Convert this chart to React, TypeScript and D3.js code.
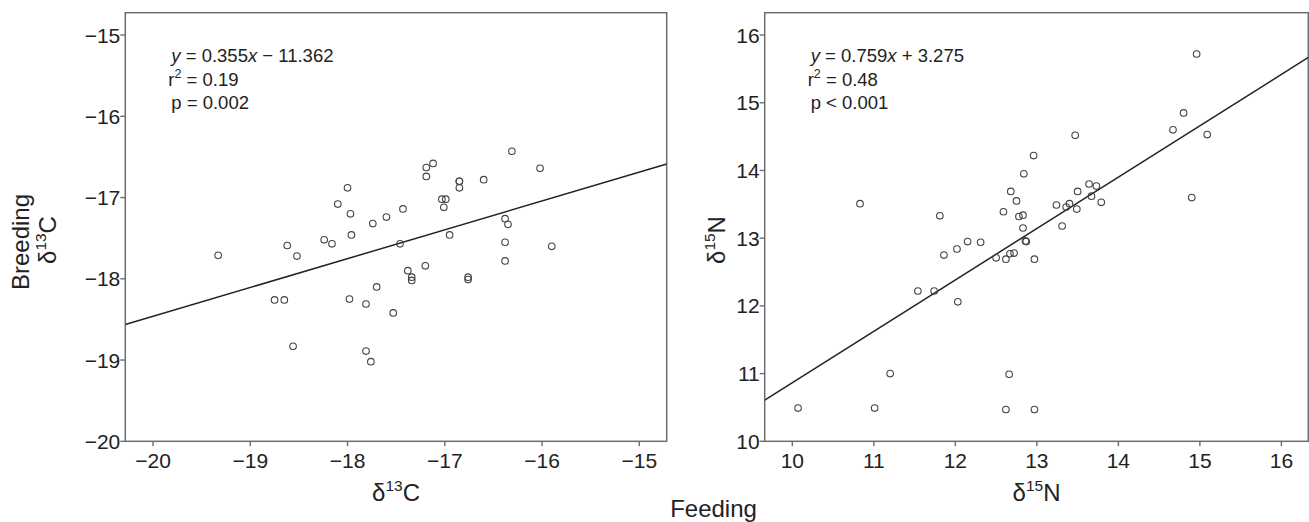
import React from 'react';
import * as d3 from 'd3';

// ---- Data ----
const carbonFeeding = [
  -19.33, -18.62, -18.52, -18.75, -18.65, -18.56, -18.24, -18.16, -18.10, -18.00,
  -17.97, -17.96, -17.98, -17.81, -17.81, -17.76, -17.74, -17.70, -17.60, -17.53,
  -17.43, -17.46, -17.38, -17.34, -17.34, -17.20, -17.19, -17.12, -17.19, -17.03,
  -16.99, -17.01, -16.95, -16.85, -16.85, -16.85, -16.76, -16.76, -16.60, -16.38,
  -16.35, -16.38, -16.38, -16.31, -16.02, -15.90,
];
const carbonBreeding = [
  -17.71, -17.59, -17.72, -18.26, -18.26, -18.83, -17.52, -17.57, -17.08, -16.88,
  -17.20, -17.46, -18.25, -18.31, -18.89, -19.02, -17.32, -18.10, -17.24, -18.42,
  -17.14, -17.57, -17.90, -17.98, -18.02, -17.84, -16.63, -16.58, -16.74, -17.02,
  -17.02, -17.12, -17.46, -16.80, -16.80, -16.88, -17.98, -18.01, -16.78, -17.26,
  -17.33, -17.55, -17.78, -16.43, -16.64, -17.60,
];
const nitrogenFeeding = [
  10.07, 11.01, 11.20, 10.83, 11.81, 11.54, 11.74, 11.86, 12.03, 12.02,
  12.15, 12.31, 12.50, 12.62, 12.67, 12.72, 12.59, 12.68, 12.75, 12.78,
  12.83, 12.83, 12.84, 12.86, 12.87, 12.96, 12.97, 12.66, 12.62, 12.97,
  13.24, 13.31, 13.36, 13.40, 13.47, 13.49, 13.50, 13.64, 13.73, 13.67,
  13.79, 14.67, 14.80, 14.96, 15.09, 14.90,
];
const nitrogenBreeding = [
  10.49, 10.49, 11.00, 13.51, 13.33, 12.22, 12.22, 12.75, 12.06, 12.84,
  12.95, 12.94, 12.71, 12.69, 12.77, 12.78, 13.39, 13.69, 13.55, 13.32,
  13.34, 13.15, 13.95, 12.96, 12.95, 14.22, 12.69, 10.99, 10.47, 10.47,
  13.49, 13.18, 13.46, 13.51, 14.52, 13.43, 13.69, 13.80, 13.77, 13.62,
  13.53, 14.60, 14.85, 15.72, 14.53, 13.60,
];

const carbonTicks = [-20, -19, -18, -17, -16, -15];
const nitrogenTicks = [10, 11, 12, 13, 14, 15, 16];

const carbonFit = { slope: 0.355, intercept: -11.362 };
const nitrogenFit = { slope: 0.759, intercept: 3.275 };

const carbonStats = { slopeText: '0.355', sign: '−', interceptText: '11.362', r2: '0.19', p: 'p = 0.002' };
const nitrogenStats = { slopeText: '0.759', sign: '+', interceptText: '3.275', r2: '0.48', p: 'p < 0.001' };

const FONT = '"Liberation Sans", Arial, Helvetica, sans-serif';
const fmt = (v: number) => (v < 0 ? '−' + Math.abs(v) : String(v));

type PanelProps = {
  id: string;
  left: number;
  right: number;
  top: number;
  bottom: number;
  xDomain: [number, number];
  yDomain: [number, number];
  xs: number[];
  ys: number[];
  ticks: number[];
  fit: { slope: number; intercept: number };
  stats: typeof carbonStats;
  element: string;
  mass: string;
  yTitleX: number | null;
};

function Panel(p: PanelProps) {
  const x = d3.scaleLinear().domain(p.xDomain).range([p.left, p.right]);
  const y = d3.scaleLinear().domain(p.yDomain).range([p.bottom, p.top]);
  const line = d3
    .line<number>()
    .x((d) => x(d))
    .y((d) => y(p.fit.slope * d + p.fit.intercept));
  const cx = (p.left + p.right) / 2;
  const tx = p.left + 46;
  return (
    <g>
      <defs>
        <clipPath id={p.id}>
          <rect x={p.left} y={p.top} width={p.right - p.left} height={p.bottom - p.top} />
        </clipPath>
      </defs>
      <rect
        x={p.left}
        y={p.top}
        width={p.right - p.left}
        height={p.bottom - p.top}
        fill="none"
        stroke="#6e6e6e"
        strokeWidth={1.5}
      />
      {p.ticks.map((t) => (
        <g key={'x' + t}>
          <line x1={x(t)} x2={x(t)} y1={p.bottom} y2={p.bottom + 5} stroke="#6e6e6e" strokeWidth={1.4} />
          <text x={x(t)} y={p.bottom + 27} textAnchor="middle" fontSize={21} fill="#222">
            {fmt(t)}
          </text>
        </g>
      ))}
      {p.ticks.map((t) => (
        <g key={'y' + t}>
          <line x1={p.left - 5} x2={p.left} y1={y(t)} y2={y(t)} stroke="#6e6e6e" strokeWidth={1.4} />
          <text x={p.left - 5} y={y(t)} dy="0.36em" textAnchor="end" fontSize={21} fill="#222">
            {fmt(t)}
          </text>
        </g>
      ))}
      <path
        d={line(p.xDomain) || ''}
        fill="none"
        stroke="#222"
        strokeWidth={1.5}
        clipPath={`url(#${p.id})`}
      />
      {p.xs.map((v, i) => (
        <circle key={i} cx={x(v)} cy={y(p.ys[i])} r={3.3} fill="none" stroke="#444" strokeWidth={1.1} />
      ))}
      <g fontSize={18.5} fill="#222">
        <text x={tx} y={62}>
          <tspan fontStyle="italic">y</tspan>
          {' = ' + p.stats.slopeText}
          <tspan fontStyle="italic">x</tspan>
          {' ' + p.stats.sign + ' ' + p.stats.interceptText}
        </text>
        <text x={tx - 3} y={86}>
          r<tspan dy={-8} fontSize={12.5}>2</tspan>
          <tspan dy={8}>{' = ' + p.stats.r2}</tspan>
        </text>
        <text x={tx} y={109}>
          {p.stats.p}
        </text>
      </g>
      <text x={cx} y={501} textAnchor="middle" fontSize={24} fill="#222">
        δ<tspan dy={-10} fontSize={15.5}>{p.mass}</tspan>
        <tspan dy={10}>{p.element}</tspan>
      </text>
      {p.yTitleX !== null && (
        <text
          transform={`translate(${p.yTitleX},240) rotate(-90)`}
          textAnchor="middle"
          fontSize={24}
          fill="#222"
        >
          δ<tspan dy={-10} fontSize={15.5}>{p.mass}</tspan>
          <tspan dy={10}>{p.element}</tspan>
        </text>
      )}
    </g>
  );
}

export default function App() {
  return (
    <svg
      width={1309}
      height={522}
      style={{ position: 'absolute', left: 0, top: 0, background: '#fff' }}
      fontFamily={FONT}
    >
      <rect x={0} y={0} width={1309} height={522} fill="#fff" />
      <Panel
        id="clipC"
        left={125.3}
        right={666.7}
        top={12.7}
        bottom={441.3}
        xDomain={[-20.285, -14.718]}
        yDomain={[-20, -14.725]}
        xs={carbonFeeding}
        ys={carbonBreeding}
        ticks={carbonTicks}
        fit={carbonFit}
        stats={carbonStats}
        element="C"
        mass="13"
        yTitleX={56}
      />
      <Panel
        id="clipN"
        left={764.7}
        right={1308.3}
        top={12.7}
        bottom={441.3}
        xDomain={[9.661, 16.33]}
        yDomain={[10, 16.33]}
        xs={nitrogenFeeding}
        ys={nitrogenBreeding}
        ticks={nitrogenTicks}
        fit={nitrogenFit}
        stats={nitrogenStats}
        element="N"
        mass="15"
        yTitleX={725}
      />
      <text
        transform="translate(29,242) rotate(-90)"
        textAnchor="middle"
        fontSize={24}
        fill="#222"
      >
        Breeding
      </text>
      <text x={713.5} y={517} textAnchor="middle" fontSize={24} fill="#222">
        Feeding
      </text>
    </svg>
  );
}
